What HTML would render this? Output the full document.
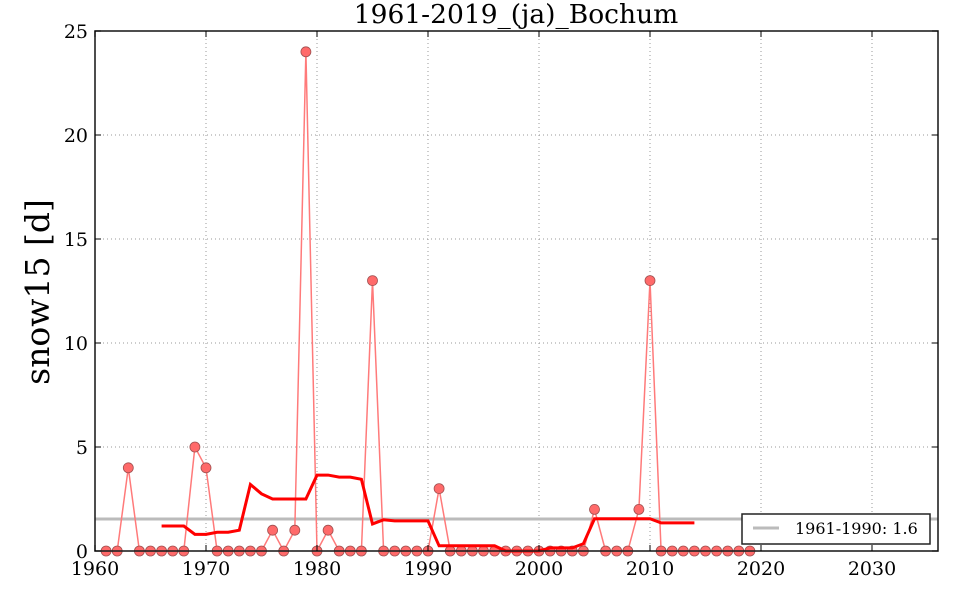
<!DOCTYPE html>
<html><head><meta charset="utf-8"><style>body{margin:0;background:#fff}svg{display:block}</style></head>
<body>
<svg width="960" height="600" xmlns="http://www.w3.org/2000/svg" font-family="DejaVu Serif, serif">
<rect width="960" height="600" fill="#fff"/>
<g id="grid" stroke="#999" stroke-dasharray="1,3" stroke-width="1"></g>
<g id="series"></g>
<rect x="95" y="31" width="843" height="520" fill="none" stroke="#222" stroke-width="1.6"/>
<g id="ticks"></g>
<text x="516" y="23" font-size="26.5" text-anchor="middle">1961-2019_(ja)_Bochum</text>
<text transform="translate(49,292) rotate(-90)" font-size="33" text-anchor="middle">snow15 [d]</text>
<rect x="742" y="514" width="188" height="30" fill="#fff" stroke="#222" stroke-width="1.5"/>
<line x1="753" y1="528" x2="779" y2="528" stroke="#bbb" stroke-width="3"/>
<text x="795" y="534" font-size="16">1961-1990: 1.6</text>
<script>
var X=function(y){return 95+(y-1960)*11.1},Y=function(v){return 551-v*20.8};
var ns="http://www.w3.org/2000/svg";
function el(p,t,a,txt){var e=document.createElementNS(ns,t);for(var k in a)e.setAttribute(k,a[k]);if(txt!=null)e.textContent=txt;document.getElementById(p).appendChild(e);return e}
for(var yr=1970;yr<=2030;yr+=10)el('grid','line',{x1:X(yr),x2:X(yr),y1:31,y2:551});
for(var v=5;v<=20;v+=5)el('grid','line',{x1:95,x2:938,y1:Y(v),y2:Y(v)});
for(var yr=1960;yr<=2030;yr+=10){el('ticks','line',{x1:X(yr),x2:X(yr),y1:551,y2:545,stroke:'#000'});el('ticks','line',{x1:X(yr),x2:X(yr),y1:31,y2:37,stroke:'#000'});el('ticks','text',{x:X(yr),y:575,'font-size':19,'text-anchor':'middle'},yr)}
for(var v=0;v<=25;v+=5){el('ticks','line',{x1:95,x2:101,y1:Y(v),y2:Y(v),stroke:'#000'});el('ticks','line',{x1:938,x2:932,y1:Y(v),y2:Y(v),stroke:'#000'});el('ticks','text',{x:88,y:Y(v)+7,'font-size':19,'text-anchor':'end'},v)}
var d={1963:4,1969:5,1970:4,1976:1,1978:1,1979:24,1981:1,1985:13,1991:3,2005:2,2009:2,2010:13};
el('series','line',{x1:95,x2:938,y1:519,y2:519,stroke:'#bbb','stroke-width':3});
var pts=[];for(var yr=1961;yr<=2019;yr++)pts.push(X(yr)+','+Y(d[yr]||0));
el('series','polyline',{points:pts.join(' '),fill:'none',stroke:'#ff7a7a','stroke-width':1.5});
for(var yr=1961;yr<=2019;yr++)el('series','circle',{cx:X(yr),cy:Y(d[yr]||0),r:5,fill:'#ff6a6a','stroke':'#a05050','stroke-width':0.8});
var m=[[1966,1.2],[1968,1.2],[1969,0.8],[1970,0.8],[1971,0.9],[1972,0.9],[1973,1.0],[1974,3.2],[1975,2.75],[1976,2.5],[1979,2.5],[1980,3.65],[1981,3.65],[1982,3.55],[1983,3.55],[1984,3.45],[1985,1.3],[1986,1.5],[1987,1.45],[1990,1.45],[1991,0.25],[1996,0.25],[1997,0],[2000,0],[2001,0.15],[2003,0.15],[2004,0.35],[2005,1.55],[2010,1.55],[2011,1.35],[2014,1.35]];
el('series','polyline',{points:m.map(function(p){return X(p[0])+','+Y(p[1])}).join(' '),fill:'none',stroke:'#f00','stroke-width':3});
</script>
</svg>
</body></html>
